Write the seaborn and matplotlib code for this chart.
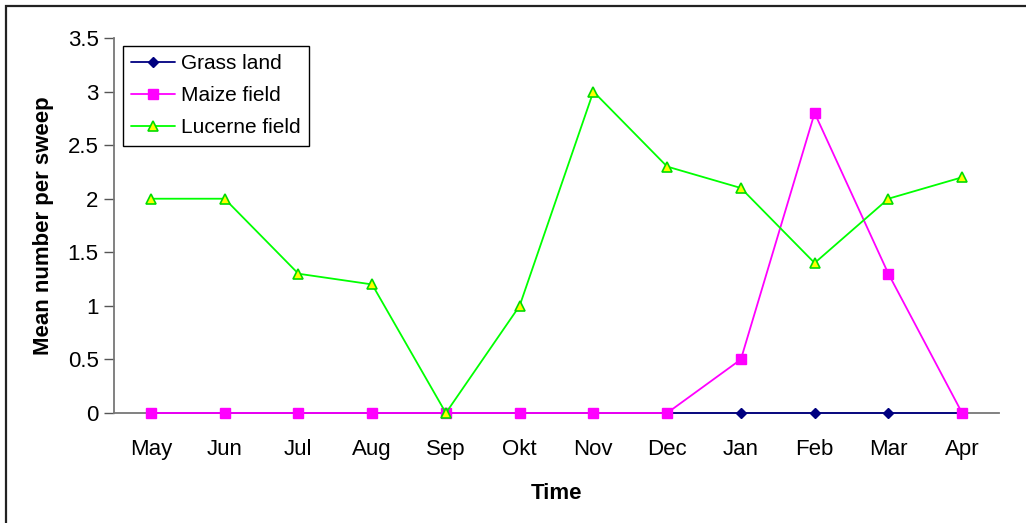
import matplotlib
matplotlib.use("Agg")
import matplotlib.pyplot as plt
import seaborn as sns
import pandas as pd
from matplotlib.lines import Line2D

months = ["May", "Jun", "Jul", "Aug", "Sep", "Okt", "Nov", "Dec", "Jan", "Feb", "Mar", "Apr"]
grass_land = [0, 0, 0, 0, 0, 0, 0, 0, 0, 0, 0, 0]
maize_field = [0, 0, 0, 0, 0, 0, 0, 0, 0.5, 2.8, 1.3, 0]
lucerne_field = [2, 2, 1.3, 1.2, 0, 1, 3, 2.3, 2.1, 1.4, 2, 2.2]
y_ticks = [0, 0.5, 1, 1.5, 2, 2.5, 3, 3.5]
y_tick_labels = ["0", "0.5", "1", "1.5", "2", "2.5", "3", "3.5"]

sns.set_theme(style="white")
plt.rcParams["font.family"] = ["Liberation Sans", "DejaVu Sans"]
plt.rcParams["text.color"] = "black"
plt.rcParams["axes.labelcolor"] = "black"
plt.rcParams["xtick.color"] = "black"
plt.rcParams["ytick.color"] = "black"

df = pd.DataFrame({
    "pos": list(range(len(months))),
    "Grass land": grass_land,
    "Maize field": maize_field,
    "Lucerne field": lucerne_field,
})

fig = plt.figure(figsize=(10.26, 5.23), dpi=100)
ax = fig.add_axes([114 / 1026, 110 / 523, 885 / 1026, 375 / 523])

# outer chart frame (top and left edges visible)
fig.add_artist(plt.Rectangle((6 / 1026, -0.05), 1.1, (523 - 5.5) / 523 + 0.05,
                             transform=fig.transFigure, fill=False,
                             edgecolor="#222222", linewidth=1.6, zorder=0))

styles = {
    "Grass land": dict(color="#000080", marker="D", markersize=5.5,
                       markerfacecolor="#000080", markeredgecolor="#000080"),
    "Maize field": dict(color="#FF00FF", marker="s", markersize=6.5,
                        markerfacecolor="#FF00FF", markeredgecolor="#FF00FF"),
    "Lucerne field": dict(color="#00FF00", marker="^", markersize=7,
                          markerfacecolor="#FFFF00", markeredgecolor="#00DD00",
                          markeredgewidth=1.2),
}

for z, name in enumerate(["Grass land", "Maize field", "Lucerne field"]):
    st = styles[name]
    sns.lineplot(data=df, x="pos", y=name, ax=ax, color=st["color"],
                 linewidth=1.3, marker=st["marker"], markersize=st["markersize"],
                 markerfacecolor=st["markerfacecolor"],
                 markeredgecolor=st["markeredgecolor"],
                 markeredgewidth=st.get("markeredgewidth", 1.0),
                 zorder=3 + z, clip_on=False, label=name)

ax.set_xlim(-0.5, len(months) - 0.5)
ax.set_ylim(0, 3.5)

ax.set_yticks(y_ticks)
ax.set_yticklabels(y_tick_labels, fontsize=16)
ax.set_xticks(range(len(months)))
ax.set_xticklabels(months, fontsize=16)
ax.tick_params(axis="x", length=0, pad=19)
ax.set_xticks([i + 0.5 for i in range(-1, len(months))], minor=True)
ax.tick_params(axis="x", which="minor", length=7, width=1, color="#333333", direction="out")
ax.tick_params(axis="y", length=7, width=1, color="#555555", direction="out", left=True, pad=4)

for side in ["top", "right"]:
    ax.spines[side].set_visible(False)
for side in ["left", "bottom"]:
    ax.spines[side].set_color("#777777")
    ax.spines[side].set_linewidth(1.3)

ax.set_xlabel("Time", fontsize=16, fontweight="bold", labelpad=16)
ax.set_ylabel("Mean number per sweep", fontsize=16, fontweight="bold", labelpad=10)

handles = []
for name in ["Grass land", "Maize field", "Lucerne field"]:
    st = styles[name]
    handles.append(Line2D([], [], color=st["color"], linewidth=1.3, marker=st["marker"],
                          markersize=st["markersize"],
                          markerfacecolor=st["markerfacecolor"],
                          markeredgecolor=st["markeredgecolor"],
                          markeredgewidth=st.get("markeredgewidth", 1.0)))
leg = ax.legend(handles, ["Grass land", "Maize field", "Lucerne field"],
                loc="upper left", bbox_to_anchor=(9 / 885, 1 - 8 / 375),
                fontsize=15, frameon=True, fancybox=False, framealpha=1,
                edgecolor="black", handlelength=2.1, handletextpad=0.3,
                borderpad=0.4, labelspacing=0.62, borderaxespad=0)
leg.get_frame().set_linewidth(1.0)

fig.savefig("out.png", dpi=100)
